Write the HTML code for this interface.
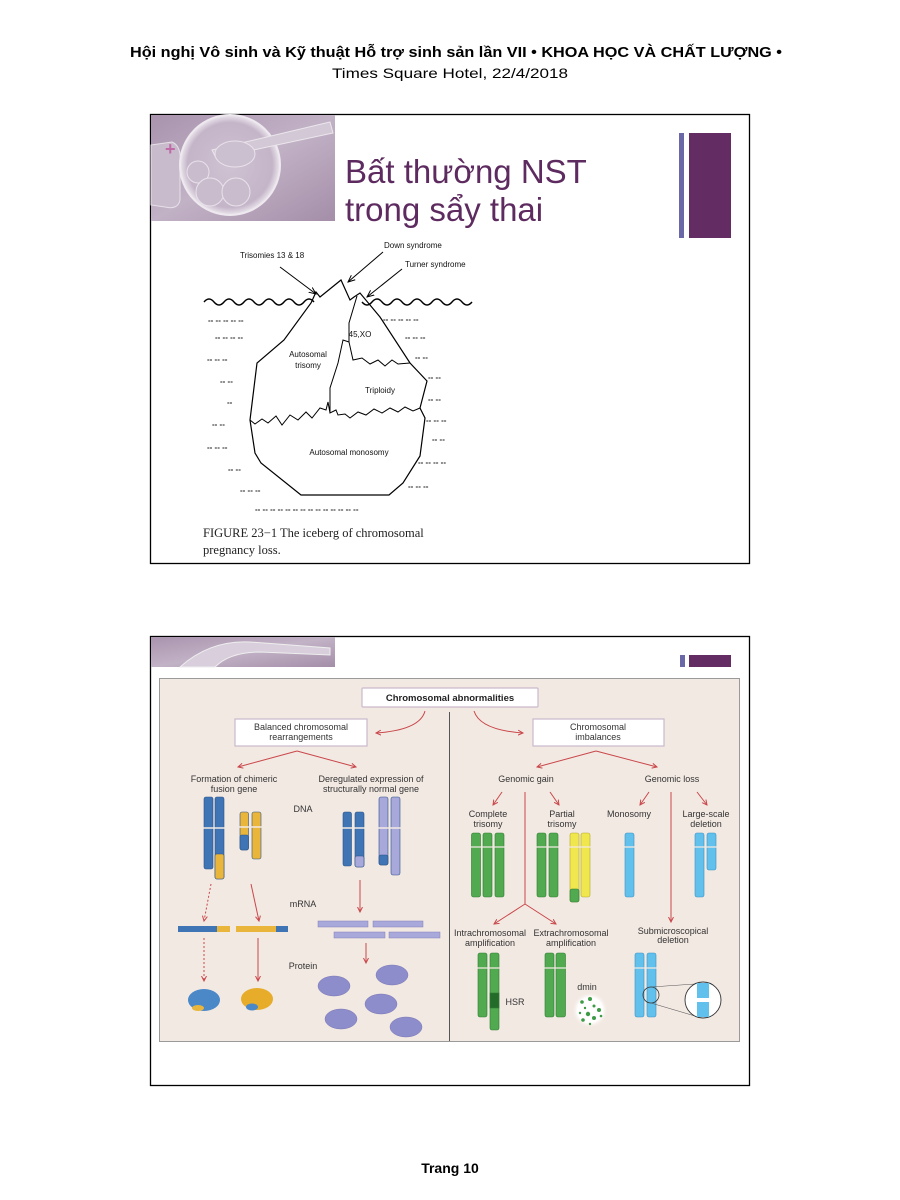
<!DOCTYPE html>
<html><head><meta charset="utf-8"><style>
html,body{margin:0;padding:0;background:#fff;}
svg{display:block;}
text{font-family:"Liberation Sans",sans-serif;}
</style></head><body>
<svg width="900" height="1200" viewBox="0 0 900 1200" xmlns="http://www.w3.org/2000/svg">
<defs>
<linearGradient id="emb" x1="0" y1="0" x2="1" y2="1">
<stop offset="0" stop-color="#a993ad"/><stop offset="0.5" stop-color="#c2b2c6"/><stop offset="1" stop-color="#a48ea8"/>
</linearGradient>
<radialGradient id="cell" cx="0.5" cy="0.5" r="0.5">
<stop offset="0" stop-color="#cfc3d3"/><stop offset="0.85" stop-color="#c4b5c8"/><stop offset="1" stop-color="#ece6ee"/>
</radialGradient>
<radialGradient id="glow" cx="0.5" cy="0.5" r="0.5">
<stop offset="0" stop-color="#ffffff"/><stop offset="0.7" stop-color="#ffffff"/><stop offset="1" stop-color="#f3e9e4" stop-opacity="0"/>
</radialGradient>
<marker id="ar" markerWidth="6" markerHeight="6" refX="5" refY="3" orient="auto"><path d="M0,0.5 L5,3 L0,5.5" fill="none" stroke="#c9474a" stroke-width="1"/></marker>
<marker id="ab" markerWidth="8" markerHeight="8" refX="7" refY="4" orient="auto"><path d="M0,1 L7,4 L0,7" fill="none" stroke="#000" stroke-width="1"/></marker>
</defs>

<text x="456" y="57" font-size="14.5" font-weight="bold" text-anchor="middle" textLength="652" lengthAdjust="spacingAndGlyphs">Hội nghị Vô sinh và Kỹ thuật Hỗ trợ sinh sản lần VII  •  KHOA HỌC VÀ CHẤT LƯỢNG •</text>
<text x="450" y="78" font-size="14" text-anchor="middle" textLength="236" lengthAdjust="spacingAndGlyphs">Times Square Hotel, 22/4/2018</text>

<rect x="150.5" y="114.5" width="599" height="449" fill="#fff" stroke="#000" stroke-width="1.3"/>
<rect x="151" y="115" width="184" height="106" fill="url(#emb)"/>
<path d="M151,145 L172,142 Q182,146 180,165 L180,200 Q178,210 165,207 L151,205 Z" fill="#c8bccc" stroke="#e6e0e8" stroke-width="1"/>
<circle cx="230" cy="165" r="50" fill="url(#cell)" stroke="#eee9ef" stroke-width="2"/>
<path d="M212,150 L330,122 L333,133 L216,158 Z" fill="#d3c9d6" stroke="#ebe6ec" stroke-width="1"/>
<ellipse cx="235" cy="154" rx="20" ry="13" fill="#cbc0cf" stroke="#e8e2ea" stroke-width="1"/>
<circle cx="198" cy="172" r="11" fill="#c9bdcd" stroke="#e8e2ea"/>
<circle cx="210" cy="192" r="14" fill="#c9bdcd" stroke="#e8e2ea"/>
<circle cx="236" cy="192" r="14" fill="#c9bdcd" stroke="#e8e2ea"/>
<text x="165" y="155" font-size="18" fill="#c06aa8" font-weight="bold">+</text>
<rect x="679" y="133" width="5" height="105" fill="#6a68a6"/>
<rect x="689" y="133" width="42" height="105" fill="#632c62"/>
<text x="345" y="183" font-size="33" fill="#5d2b5f">Bất thường NST</text>
<text x="345" y="221" font-size="33" fill="#5d2b5f">trong sẩy thai</text>

<g font-size="8" fill="#111">
<text x="240" y="258">Trisomies 13 &amp; 18</text>
<text x="384" y="248">Down syndrome</text>
<text x="405" y="267">Turner syndrome</text>
<text x="360" y="337" text-anchor="middle">45,XO</text>
<text x="308" y="357" text-anchor="middle">Autosomal</text>
<text x="308" y="368" text-anchor="middle">trisomy</text>
<text x="380" y="393" text-anchor="middle">Triploidy</text>
<text x="349" y="455" text-anchor="middle">Autosomal monosomy</text>
</g>
<g stroke="#000" fill="none" stroke-width="1">
<line x1="280" y1="267" x2="316" y2="294" marker-end="url(#ab)"/>
<line x1="383" y1="252" x2="348" y2="282" marker-end="url(#ab)"/>
<line x1="402" y1="269" x2="367" y2="297" marker-end="url(#ab)"/>
<path stroke-width="1.4" d="M204,302 q5,-6 10,0 q5,6 10,0 q5,-6 10,0 q5,6 10,0 q5,-6 10,0 q5,6 10,0 q5,-6 10,0 q5,6 10,0 q5,-6 10,0 q5,6 10,0 q5,-6 10,0 M362,302 q5,6 10,0 q5,-6 10,0 q5,6 10,0 q5,-6 10,0 q5,6 10,0 q5,-6 10,0 q5,6 10,0 q5,-6 10,0 q5,6 10,0 q5,-6 10,0 q5,6 10,0"/>
<path stroke-width="1.2" d="M311,303 L316,292 L320,297 L341,280 L350,300 L354,297 L360,293 L380,317 L410,363 L427,381 L420,408 L425,418 L420,456 L403,483 L389,495 L301,495 L261,463 L255,453 L250,420 L257,363 L284,340 Z"/>
<path d="M357,296 L349,323 L349,342 L353,360 L362,358 L370,364 L378,360 L385,366 L392,360 L398,364 L410,363"/>
<path d="M349,342 L343,340 L338,363 L330,388 L330,413 L336,410 L338,415 L345,414 L350,418 L358,412 L366,415 L374,409 L382,413 L390,408 L398,412 L405,407 L413,411 L420,408"/>
<path d="M250,420 L255,424 L262,419 L268,423 L276,416 L282,425 L290,415 L298,420 L306,412 L312,418 L320,408 L326,410 L328,402 L330,413"/>
</g>
<g font-size="8" fill="#222" style="font-family:'Liberation Mono',monospace;font-weight:bold">
<text x="208" y="323">-- -- -- -- --</text>
<text x="215" y="340">-- -- -- --</text>
<text x="207" y="362">-- -- --</text>
<text x="220" y="384">-- --</text>
<text x="227" y="405">--</text>
<text x="212" y="427">-- --</text>
<text x="207" y="450">-- -- --</text>
<text x="228" y="472">-- --</text>
<text x="240" y="493">-- -- --</text>
<text x="255" y="512">-- -- -- -- -- -- -- -- -- -- -- -- -- --</text>
<text x="383" y="322">-- -- -- -- --</text>
<text x="405" y="340">-- -- --</text>
<text x="415" y="360">-- --</text>
<text x="428" y="380">-- --</text>
<text x="428" y="402">-- --</text>
<text x="426" y="423">-- -- --</text>
<text x="432" y="442">-- --</text>
<text x="418" y="465">-- -- -- --</text>
<text x="408" y="489">-- -- --</text>
</g>
<text x="203" y="537" font-size="12.5" style="font-family:'Liberation Serif',serif" fill="#222">FIGURE 23−1    The iceberg of chromosomal</text>
<text x="203" y="554" font-size="12.5" style="font-family:'Liberation Serif',serif" fill="#222">pregnancy loss.</text>

<rect x="150.5" y="636.5" width="599" height="449" fill="#fff" stroke="#000" stroke-width="1.3"/>
<rect x="151" y="637" width="184" height="30" fill="url(#emb)"/>
<path d="M180,667 Q210,640 250,642 L330,648 L330,655 L260,652 Q230,652 215,667 Z" fill="#d8cedc" stroke="#eee"/>
<rect x="680" y="655" width="5" height="12" fill="#6a68a6"/>
<rect x="689" y="655" width="42" height="12" fill="#632c62"/>
<rect x="159.5" y="678.5" width="580" height="363" fill="#f3e9e3" stroke="#9a9a9a" stroke-width="1"/>
<line x1="449.5" y1="712" x2="449.5" y2="1041" stroke="#555" stroke-width="1"/>

<g fill="#fff" stroke="#c9b9cc" stroke-width="1.2">
<rect x="362" y="688" width="176" height="19" rx="1"/>
<rect x="235" y="719" width="132" height="27"/>
<rect x="533" y="719" width="131" height="27"/>
</g>
<g font-size="9" fill="#333" text-anchor="middle">
<text x="450" y="701" font-weight="bold" font-size="9.5" fill="#222">Chromosomal abnormalities</text>
<text x="301" y="730">Balanced chromosomal</text>
<text x="301" y="740">rearrangements</text>
<text x="598" y="730">Chromosomal</text>
<text x="598" y="740">imbalances</text>
<text x="234" y="782">Formation of chimeric</text>
<text x="234" y="792">fusion gene</text>
<text x="371" y="782">Deregulated expression of</text>
<text x="371" y="792">structurally normal gene</text>
<text x="526" y="782">Genomic gain</text>
<text x="672" y="782">Genomic loss</text>
<text x="303" y="812">DNA</text>
<text x="303" y="907">mRNA</text>
<text x="303" y="969">Protein</text>
<text x="488" y="817">Complete</text>
<text x="488" y="827">trisomy</text>
<text x="562" y="817">Partial</text>
<text x="562" y="827">trisomy</text>
<text x="629" y="817">Monosomy</text>
<text x="706" y="817">Large-scale</text>
<text x="706" y="827">deletion</text>
<text x="490" y="936">Intrachromosomal</text>
<text x="490" y="946">amplification</text>
<text x="571" y="936">Extrachromosomal</text>
<text x="571" y="946">amplification</text>
<text x="673" y="934">Submicroscopical</text>
<text x="673" y="943">deletion</text>
<text x="515" y="1005">HSR</text>
<text x="587" y="990">dmin</text>
</g>

<g stroke="#c9474a" stroke-width="1" fill="none">
<path d="M425,711 Q420,730 376,733" marker-end="url(#ar)"/>
<path d="M474,711 Q480,730 523,733" marker-end="url(#ar)"/>
<line x1="297" y1="751" x2="238" y2="767" marker-end="url(#ar)"/>
<line x1="297" y1="751" x2="356" y2="767" marker-end="url(#ar)"/>
<line x1="596" y1="751" x2="537" y2="767" marker-end="url(#ar)"/>
<line x1="596" y1="751" x2="657" y2="767" marker-end="url(#ar)"/>
<line x1="502" y1="792" x2="493" y2="805" marker-end="url(#ar)"/>
<line x1="550" y1="792" x2="559" y2="805" marker-end="url(#ar)"/>
<line x1="649" y1="792" x2="640" y2="805" marker-end="url(#ar)"/>
<line x1="697" y1="792" x2="707" y2="805" marker-end="url(#ar)"/>
<line x1="525" y1="792" x2="525" y2="904"/>
<line x1="525" y1="904" x2="494" y2="924" marker-end="url(#ar)"/>
<line x1="525" y1="904" x2="556" y2="924" marker-end="url(#ar)"/>
<line x1="671" y1="792" x2="671" y2="922" marker-end="url(#ar)"/>
<line x1="211" y1="884" x2="204" y2="921" stroke-dasharray="2,2" marker-end="url(#ar)"/>
<line x1="251" y1="884" x2="259" y2="921" marker-end="url(#ar)"/>
<line x1="360" y1="880" x2="360" y2="912" marker-end="url(#ar)"/>
<line x1="204" y1="938" x2="204" y2="981" stroke-dasharray="2,2" marker-end="url(#ar)"/>
<line x1="258" y1="938" x2="258" y2="981" marker-end="url(#ar)"/>
<line x1="366" y1="943" x2="366" y2="963" marker-end="url(#ar)"/>
</g>

<g stroke="#2b5387" stroke-width="0.6">
<rect x="204" y="797" width="9" height="72" rx="2" fill="#3f75b5"/>
<rect x="215" y="797" width="9" height="82" rx="2" fill="#3f75b5"/>
<rect x="215" y="854" width="9" height="25" rx="2" fill="#e9b53b"/>
<rect x="240" y="812" width="8.5" height="38" rx="2" fill="#e9b53b"/>
<rect x="240" y="835" width="8.5" height="15" rx="2" fill="#3f75b5"/>
<rect x="252" y="812" width="9" height="47" rx="2" fill="#e9b53b"/>
<rect x="343" y="812" width="8.5" height="54" rx="2" fill="#3f75b5"/>
<rect x="355" y="812" width="9" height="55" rx="2" fill="#3f75b5"/>
<rect x="355" y="856" width="9" height="11" rx="2" fill="#a9a8da"/>
<rect x="379" y="797" width="9" height="68" rx="2" fill="#a9a8da"/>
<rect x="379" y="855" width="9" height="10" rx="2" fill="#3f75b5"/>
<rect x="391" y="797" width="9" height="78" rx="2" fill="#a9a8da"/>
</g>
<g stroke="#f3e9e3" stroke-width="1.5">
<line x1="203" y1="828" x2="225" y2="828"/><line x1="239" y1="827" x2="262" y2="827"/>
<line x1="342" y1="828" x2="365" y2="828"/><line x1="378" y1="828" x2="401" y2="828"/>
</g>
<rect x="178" y="926" width="52" height="6" fill="#3f75b5"/><rect x="217" y="926" width="13" height="6" fill="#e9b53b"/>
<rect x="236" y="926" width="52" height="6" fill="#e9b53b"/><rect x="276" y="926" width="12" height="6" fill="#3f75b5"/>
<g fill="#a9a8da" stroke="#7f7fb8" stroke-width="0.5">
<rect x="318" y="921" width="50" height="6"/><rect x="373" y="921" width="50" height="6"/>
<rect x="334" y="932" width="51" height="6"/><rect x="389" y="932" width="51" height="6"/>
</g>
<ellipse cx="204" cy="1000" rx="16" ry="11" fill="#4a88c8"/>
<ellipse cx="198" cy="1008" rx="6" ry="3" fill="#e9b53b"/>
<ellipse cx="257" cy="999" rx="16" ry="11" fill="#e6ac2a"/>
<ellipse cx="252" cy="1007" rx="6" ry="3.5" fill="#4a88c8"/>
<g fill="#8e8dcc" stroke="#7676b4" stroke-width="0.5">
<ellipse cx="334" cy="986" rx="16" ry="10"/><ellipse cx="392" cy="975" rx="16" ry="10"/>
<ellipse cx="381" cy="1004" rx="16" ry="10"/><ellipse cx="341" cy="1019" rx="16" ry="10"/>
<ellipse cx="406" cy="1027" rx="16" ry="10"/>
</g>
<g stroke="#2e7a33" stroke-width="0.6" fill="#52aa50">
<rect x="471.5" y="833" width="9" height="64" rx="2"/>
<rect x="483" y="833" width="9" height="64" rx="2"/>
<rect x="495" y="833" width="9" height="64" rx="2"/>
<rect x="537" y="833" width="9" height="64" rx="2"/>
<rect x="549" y="833" width="9" height="64" rx="2"/>
<rect x="570" y="833" width="9" height="69" rx="2" fill="#f0e64e" stroke="#b0a830"/>
<rect x="570" y="889" width="9" height="13" rx="2"/>
<rect x="581" y="833" width="9" height="64" rx="2" fill="#f0e64e" stroke="#b0a830"/>
<rect x="478" y="953" width="9" height="64" rx="2"/>
<rect x="490" y="953" width="9" height="77" rx="2"/>
<rect x="490" y="993" width="9" height="15" fill="#236b28"/>
<rect x="545" y="953" width="9" height="64" rx="2"/>
<rect x="556" y="953" width="9.5" height="64" rx="2"/>
</g>
<g stroke="#3a8fc0" stroke-width="0.6" fill="#62c0ec">
<rect x="625" y="833" width="9" height="64" rx="2"/>
<rect x="695" y="833" width="9" height="64" rx="2"/>
<rect x="707" y="833" width="9" height="37" rx="2"/>
<rect x="635" y="953" width="9" height="64" rx="2"/>
<rect x="647" y="953" width="9" height="64" rx="2"/>
</g>
<g stroke="#f3e9e3" stroke-width="1.3">
<line x1="470" y1="847" x2="505" y2="847"/><line x1="536" y1="847" x2="591" y2="847"/>
<line x1="624" y1="847" x2="635" y2="847"/><line x1="694" y1="847" x2="717" y2="847"/>
<line x1="477" y1="968" x2="500" y2="968"/><line x1="544" y1="968" x2="567" y2="968"/>
<line x1="634" y1="968" x2="657" y2="968"/>
</g>
<circle cx="590" cy="1010" r="18" fill="url(#glow)"/>
<g fill="#3d9a45">
<circle cx="582" cy="1002" r="1.8"/><circle cx="590" cy="999" r="2"/><circle cx="585" cy="1008" r="1.2"/>
<circle cx="594" cy="1006" r="1.5"/><circle cx="599" cy="1010" r="2"/><circle cx="588" cy="1014" r="2.2"/>
<circle cx="580" cy="1013" r="1.2"/><circle cx="594" cy="1018" r="2"/><circle cx="583" cy="1020" r="1.8"/>
<circle cx="601" cy="1016" r="1.3"/><circle cx="590" cy="1024" r="1.2"/>
</g>
<circle cx="651" cy="995" r="8" fill="none" stroke="#333" stroke-width="0.8"/>
<line x1="651" y1="987" x2="695" y2="984" stroke="#555" stroke-width="0.6"/>
<line x1="651" y1="1003" x2="695" y2="1016" stroke="#555" stroke-width="0.6"/>
<circle cx="703" cy="1000" r="18" fill="#fff" stroke="#333" stroke-width="0.9"/>
<rect x="697" y="983" width="12" height="15" fill="#62c0ec"/>
<rect x="697" y="1002" width="12" height="15" fill="#62c0ec"/>

<text x="450" y="1173" font-size="14" font-weight="bold" text-anchor="middle">Trang 10</text>
</svg>
</body></html>
